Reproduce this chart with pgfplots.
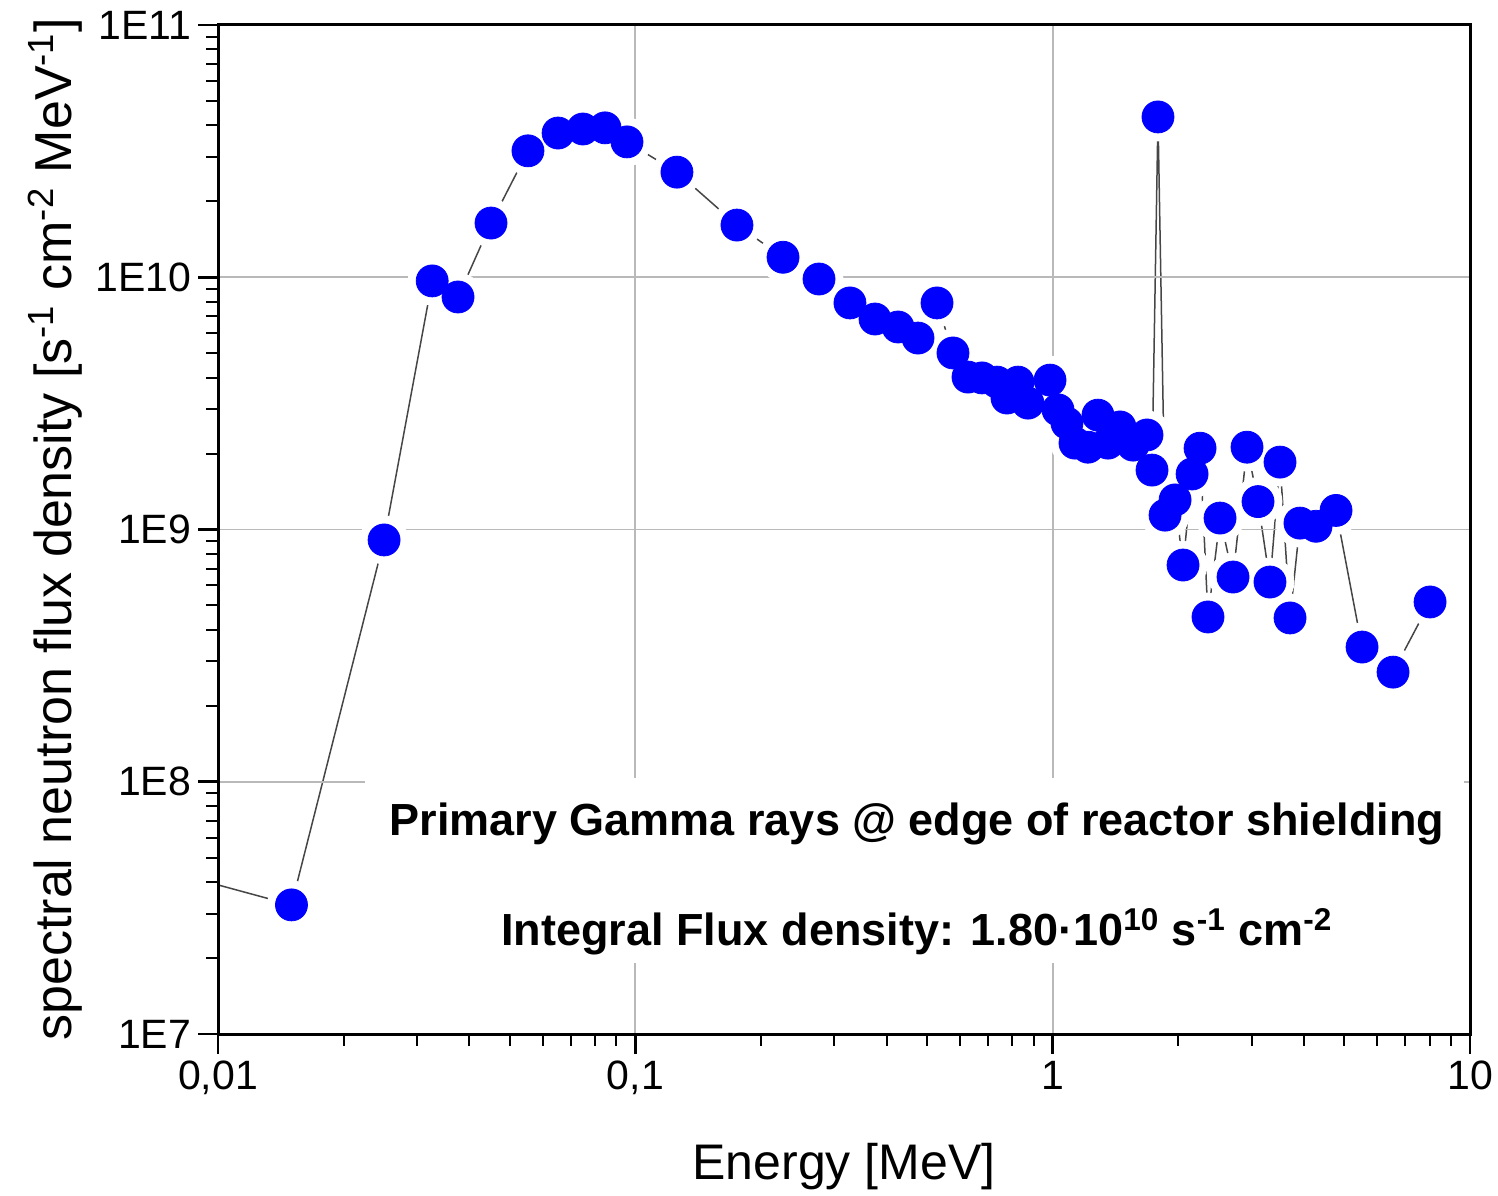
\documentclass[border=0pt]{standalone}
\usepackage{fontspec}
\setmainfont{Liberation Sans}
\usepackage{pgfplots}
\usepackage{pgfplotstable}
\pgfplotsset{compat=1.18}
\definecolor{ptblue}{RGB}{0,0,255}
\definecolor{lnclr}{RGB}{70,70,70}
\definecolor{gridclr}{RGB}{185,185,185}

\pgfplotstableread{
E F
0.0100 3.90e7
0.0150 3.25e7
0.0250 9.09e8
0.0326 9.67e9
0.0376 8.35e9
0.0451 1.64e10
0.0553 3.17e10
0.0653 3.73e10
0.0749 3.87e10
0.0846 3.91e10
0.0955 3.44e10
0.1258 2.61e10
0.1752 1.61e10
0.2259 1.20e10
0.2755 9.84e9
0.3268 7.91e9
0.3753 6.83e9
0.4261 6.35e9
0.4757 5.74e9
0.5283 7.91e9
0.5770 5.01e9
0.6268 4.02e9
0.6771 3.99e9
0.7357 3.84e9
0.7773 3.32e9
0.8260 3.84e9
0.8727 3.17e9
0.9854 3.91e9
1.030 2.98e9
1.082 2.64e9
1.131 2.20e9
1.215 2.12e9
1.284 2.84e9
1.357 2.20e9
1.450 2.55e9
1.558 2.16e9
1.683 2.37e9
1.730 1.72e9
1.788 4.32e10
1.859 1.14e9
1.965 1.31e9
2.053 7.23e8
2.158 1.66e9
2.255 2.10e9
2.356 4.50e8
2.518 1.11e9
2.705 6.48e8
2.922 2.12e9
3.105 1.29e9
3.317 6.19e8
3.506 1.85e9
3.705 4.46e8
3.914 1.06e9
4.276 1.03e9
4.775 1.19e9
5.512 3.42e8
6.540 2.72e8
8.022 5.16e8
}\datatable

\pgfplotsset{
  layers/mylayers/.define layer set={axis background,pre main,axis grid,axis ticks,axis lines,axis tick labels,main,axis descriptions,axis foreground}{},
}

\begin{document}
\begin{tikzpicture}
\begin{axis}[
  set layers=mylayers,
  scale only axis, width=626pt, height=504.5pt,
  xmode=log, ymode=log,
  xmin=0.01, xmax=10, ymin=1e7, ymax=1e11,
  xtick={0.01,0.1,1,10}, xticklabels={{0,01},{0,1},{1},{10}},
  ytick={1e7,1e8,1e9,1e10,1e11}, yticklabels={{1E7},{1E8},{1E9},{1E10},{1E11}},
  minor xtick={0.02,0.03,0.04,0.05,0.06,0.07,0.08,0.09,0.2,0.3,0.4,0.5,0.6,0.7,0.8,0.9,2,3,4,5,6,7,8,9},
  minor ytick={2e7,3e7,4e7,5e7,6e7,7e7,8e7,9e7,2e8,3e8,4e8,5e8,6e8,7e8,8e8,9e8,2e9,3e9,4e9,5e9,6e9,7e9,8e9,9e9,2e10,3e10,4e10,5e10,6e10,7e10,8e10,9e10},
  xtick pos=bottom, ytick pos=left, tick align=outside,
  major tick length=10pt, minor tick length=6pt,
  every major tick/.append style={black, line width=1.3pt},
  every minor tick/.append style={black, line width=1pt},
  grid=major, major grid style={gridclr, line width=0.9pt},
  axis line style={line width=1.5pt},
  ticklabel style={font=\fontsize{20.5}{24}\selectfont},
  xlabel={Energy [MeV]},
  ylabel={spectral neutron flux density [s\textsuperscript{-1} cm\textsuperscript{-2} MeV\textsuperscript{-1}]},
  xlabel style={at={(axis description cs:0.5,-0.1315)}, anchor=center, font=\fontsize{25}{30}\selectfont},
  ylabel style={at={(axis description cs:-0.1302,0.5)}, anchor=center, font=\fontsize{26}{31}\selectfont},
]
\addplot[lnclr, line width=0.75pt, mark=none, on layer=pre main] table[x=E,y=F] {\datatable};
\addplot[white, only marks, mark=*, mark size=12pt, mark options={draw=white, fill=white}, skip coords between index={0}{1}, on layer=pre main] table[x=E,y=F] {\datatable};
\addplot[ptblue, only marks, mark=*, mark size=8pt, mark options={draw=ptblue, fill=ptblue}, skip coords between index={0}{1}] table[x=E,y=F] {\datatable};
\fill[white] (axis cs:0.0225,1.91e7) rectangle (axis cs:9.7,1.035e8);
\node[anchor=base, font=\bfseries\fontsize{22.5}{27}\selectfont] at (axis cs:0.473,6.15e7) {Primary Gamma rays @ edge of reactor shielding};
\node[anchor=base, font=\bfseries\fontsize{22.5}{27}\selectfont] at (axis cs:0.473,2.25e7) {Integral Flux density: 1.80·10\textsuperscript{10} s\textsuperscript{-1} cm\textsuperscript{-2}};
\end{axis}
\pgfresetboundingbox
\path[use as bounding box] (-109pt,-80.5pt) rectangle (640pt,517pt);
\end{tikzpicture}
\end{document}
